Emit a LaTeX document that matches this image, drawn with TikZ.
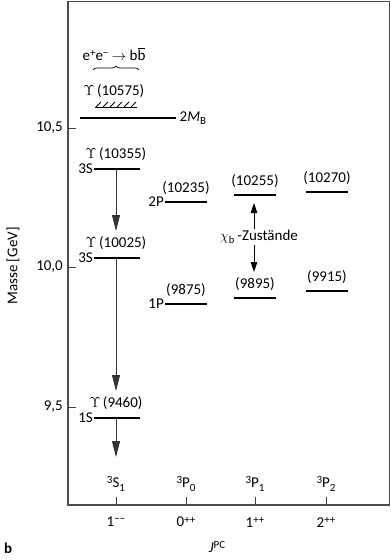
\documentclass[tikz,border=0pt]{standalone}
\usepackage{fontspec}
\setmainfont{Carlito}
\usetikzlibrary{arrows.meta,decorations.pathreplacing}
\newcommand{\hsup}[1]{\raisebox{0.55ex}{\fontsize{11}{12}\selectfont #1}}
\newcommand{\lsub}[1]{\raisebox{-0.45ex}{\fontsize{11}{12}\selectfont #1}}
\begin{document}
\begin{tikzpicture}[x=1pt, y=-1pt,
  every node/.style={font=\fontsize{15}{17}\selectfont, inner sep=1pt},
  level/.style={line width=1.6pt},
  mass/.style={anchor=base},
  state/.style={anchor=east},
  decay/.style={line width=1pt, black!80, -{Triangle[length=16pt,width=8pt]}},
  chiarrow/.style={line width=1pt, -{Triangle[length=10pt,width=6.5pt]}},
  axistick/.style={line width=0.8pt, black!75}]
  \useasboundingbox (0,0) rectangle (391,560);
  % frame
  \draw[line width=1.2pt, black!70] (68,1.5) rectangle (389.5,505);
  % mass axis
  \foreach \ty/\tl in {128/{10,5}, 267/{10,0}, 407/{9,5}} {
    \draw[axistick] (68,\ty) -- (76,\ty);
    \node[anchor=east] at (64,\ty) {\tl};
  }
  \node[rotate=90] (masse) at (13,266) {Masse [GeV]};
  % J^PC axis
  \foreach \tx/\tw/\tj in {116/{\hsup{3}S\lsub{1}}/{1\hsup{−−}},
                          186/{\hsup{3}P\lsub{0}}/{0\hsup{++}},
                          255/{\hsup{3}P\lsub{1}}/{1\hsup{++}},
                          326/{\hsup{3}P\lsub{2}}/{2\hsup{++}}} {
    \draw[axistick] (\tx,505) -- (\tx,497);
    \node at (\tx,484) {\tw};
    \node at (\tx,522) {\tj};
  }
  \node (jpc) at (217,547) {\textit{J}\hsup{PC}};
  \node[anchor=west] (b) at (3,548) {\textbf{b}};

  % threshold and open beauty
  \coordinate (mbl) at (80,118);
  \coordinate (mbr) at (176,118);
  \draw[line width=2.2pt] (mbl) -- (mbr);
  \node[anchor=west] (mb) at (mbr) {\,2\textit{M}\lsub{B}};
  \draw[line width=1pt] (95,107) -- (137,107);
  \foreach \hx in {96,103,110,117,124,131}
    \draw[line width=0.8pt] (\hx,107) -- ++(5,-5);
  \node[mass] (u4) at (114,95) {$\Upsilon$\,(10575)};
  \coordinate (brl) at (93,70);
  \coordinate (brr) at (139,70);
  \draw[decorate, decoration={brace, amplitude=4pt}, line width=0.7pt] (brl) -- (brr);
  \node (ee) at (114,54) {e\hsup{+}e\hsup{−} $\rightarrow$ b$\overline{\mbox{b}}$};

  % S states
  \foreach \n/\ly/\m/\s in {s3/169/10355/3S, s2/258/10025/3S, s1/418/9460/1S} {
    \coordinate (\n l) at (94,\ly);
    \coordinate (\n r) at (140,\ly);
    \coordinate (\n) at (116,\ly);
    \draw[level] (\n l) -- (\n r);
    \node[mass] (\n m) at (116,\ly-11) {$\Upsilon$\,(\m)};
    \node[state] (\n s) at (\n l) {\s};
  }
  \coordinate (t1) at (116,231);
  \coordinate (t2) at (116,391);
  \coordinate (t3) at (116,457);
  \draw[decay] (s3) -- (t1);
  \draw[decay] (s2) -- (t2);
  \draw[decay] (s1) -- (t3);

  % P states
  \foreach \n/\cx/\ly/\m in {p20/186/202/10235, p10/186/304/9875,
                             p21/255/195/10255, p11/255/298/9895,
                             p22/327/192/10270, p12/327/291/9915} {
    \coordinate (\n l) at (\cx-21,\ly);
    \coordinate (\n r) at (\cx+21,\ly);
    \draw[level] (\n l) -- (\n r);
    \node[mass] (\n m) at (\cx,\ly-10) {(\m)};
  }
  \node[state] (p2s) at (p20l) {2P};
  \node[state] (p1s) at (p10l) {1P};

  % chi_b
  \node (chi) at (259,237) {$\chi_{\mathrm{b}}$\,-Zustände};
  \coordinate (chiup) at (254,203);
  \coordinate (chidn) at (254,272);
  \draw[chiarrow] (chi.north -| chiup) -- (chiup);
  \draw[chiarrow] (chi.south -| chidn) -- (chidn);
\end{tikzpicture}
\end{document}
